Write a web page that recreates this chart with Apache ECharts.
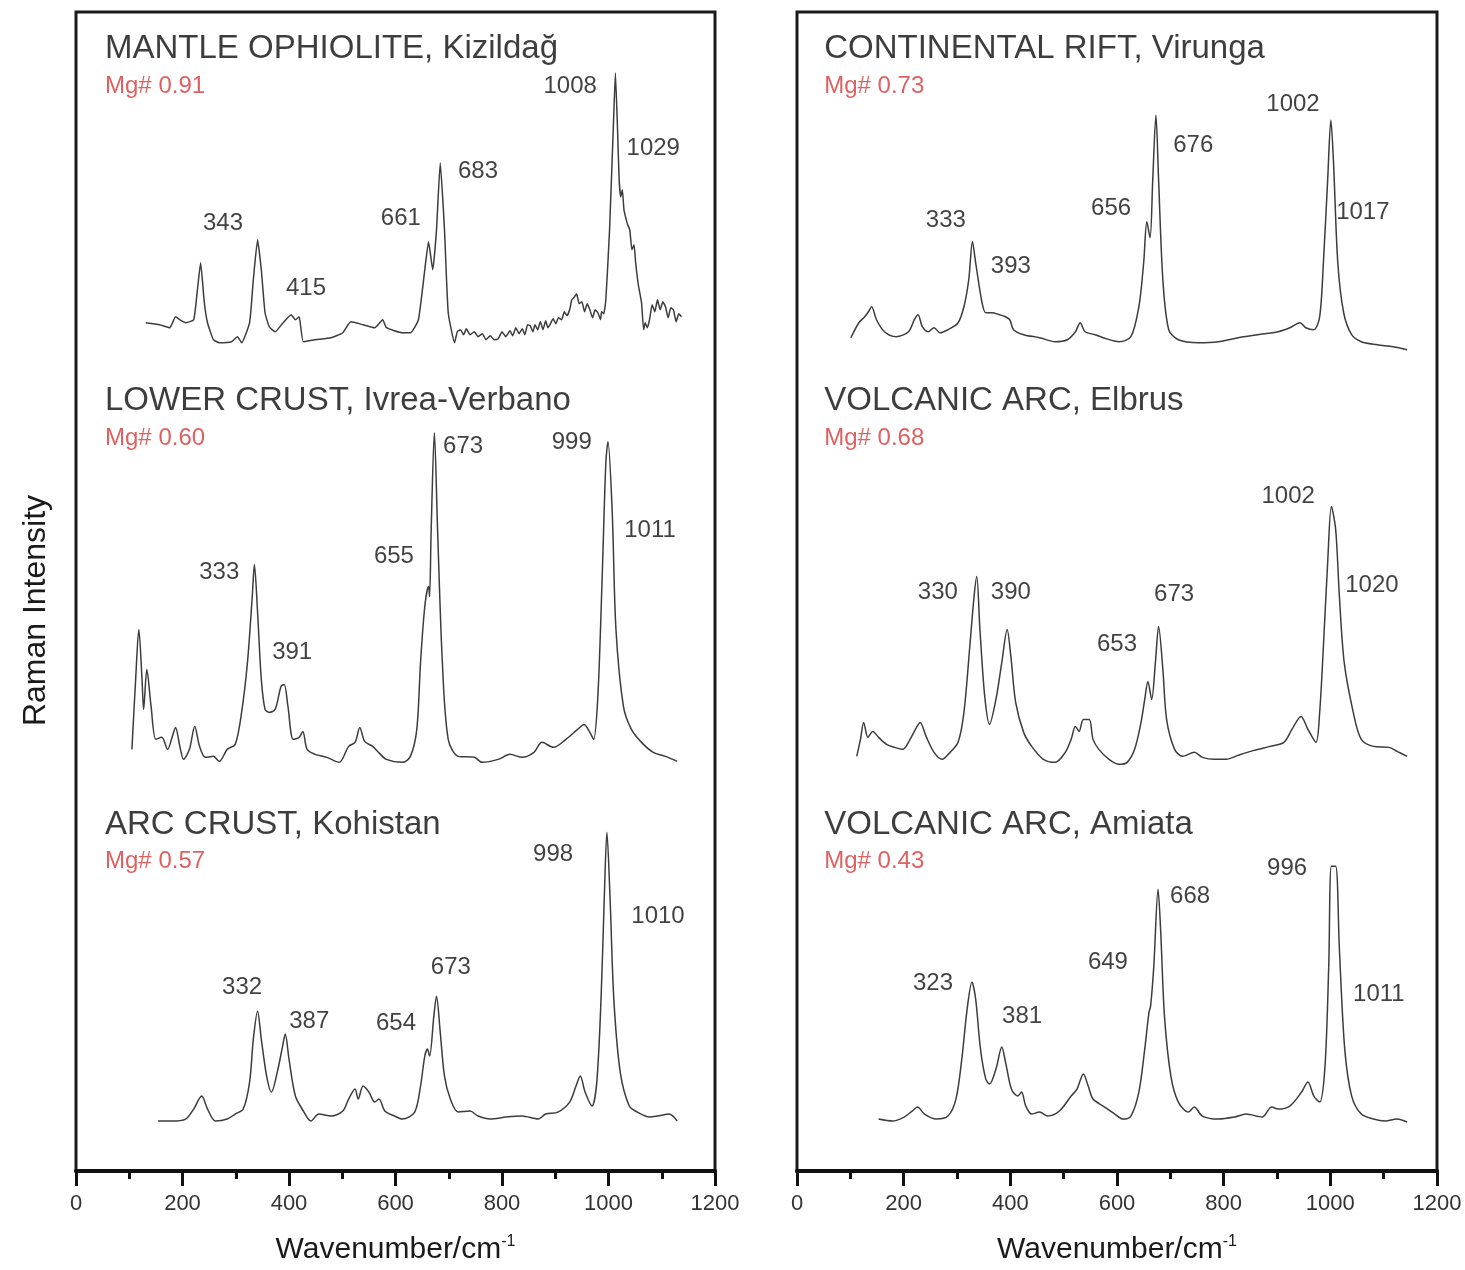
<!DOCTYPE html>
<html>
<head>
<meta charset="utf-8">
<script src="https://cdn.jsdelivr.net/npm/echarts@6/dist/echarts.min.js"></script>
<style>
html,body{margin:0;padding:0;background:#fff;}
#chart{width:1465px;height:1270px;}
</style>
</head>
<body>
<div id="chart"></div>
<script>
// ---------- Data (wavenumber in cm-1, Raman intensity in arbitrary units) ----------
const wnMantle = [131,157,176,187,195,206,221,228,234,241,247,258,269,292,303,311,326,333,341,348,355,363,374,389,404,412,419,427,449,479,501,516,539,561,576,583,613,628,643,655,662,670,677,684,692,699,711,716,722,728,733,740,748,755,763,770,778,785,793,800,807,815,820,826,832,838,843,848,853,858,862,867,872,877,882,886,890,896,901,906,912,917,922,927,931,935,940,945,950,955,960,965,970,975,980,985,987,991,995,1002,1010,1013,1017,1020,1023,1026,1029,1032,1036,1040,1044,1048,1051,1056,1062,1066,1069,1073,1077,1082,1087,1092,1097,1102,1107,1112,1117,1122,1127,1132,1137];
const intMantle = [2.7,2.5,2.2,3.3,3,2.7,3,6,8.7,4.7,2.7,1,0.7,0.8,1.3,0.7,2.7,7,11,8,3.7,2.3,1.8,2.7,3.5,3,3.3,0.8,1,1.2,1.7,2.8,2.5,2.2,3,2.2,1.7,1.7,3,8,10.8,8,12,18.7,12,3.7,0.7,1.8,2.0,1.5,2.1,1.5,1.8,1.3,1.6,1.0,1.4,1.0,1.1,1.8,1.3,1.9,1.4,2.2,1.6,2.1,1.5,2.5,2.4,1.8,2.5,2.0,2.8,2.0,2.9,2.2,2.5,3.1,2.6,3.2,3.0,3.8,3.4,4.0,5.0,5.2,5.6,4.6,4.8,3.8,4.6,4.0,3.2,4.0,3.7,3.0,3.8,3.6,5.0,12,23.7,27.7,22,17,15.3,16,14,13.3,12.5,12,10,10.5,8.7,6.5,4.7,2.0,2.7,2.2,3,4.5,3.8,5,4,4.8,4.3,3.2,4.2,4,2.8,3.6,3.3];

const wnLower = [105,112,118,124,127,133,141,150,161,172,181,187,195,202,213,223,232,243,258,269,284,299,311,322,331,335,341,348,355,363,374,385,391,398,408,419,426,434,449,471,494,512,524,533,542,557,568,583,613,628,640,647,655,662,664,667,673,679,688,699,718,748,763,793,815,838,860,875,897,920,942,954,965,972,980,988,995,999,1007,1014,1028,1043,1062,1084,1107,1129];
const intLower = [1.5,8.5,13.5,8.5,5.5,9.5,5.8,2.5,2.7,1.5,2.8,3.7,1.8,0.5,1.5,3.8,1.8,0.7,0.8,0.3,1.5,2,5.2,10.2,16.8,20,15.2,8.5,5.5,5.2,5.5,7.8,8,5.8,2.5,2.7,3.3,1.5,1,0.7,0.2,1.8,2.2,3.7,2.3,1.8,1.2,0.5,0.2,0.8,3.5,10.2,15.8,17.8,16.8,23.5,33.2,23.5,10.2,2.5,0.8,0.7,0.2,0.5,1,0.7,1.2,2.2,1.7,2.5,3.5,4,3.2,2.5,6.8,18.5,30.2,32.3,25.2,13.5,5.8,3.5,2.2,1.2,0.8,0.3];

const wnArc = [154,180,206,221,236,247,262,284,299,314,326,333,341,348,358,367,378,388,393,400,412,427,441,456,479,501,512,524,530,539,550,561,569,580,598,613,636,647,655,660,664,672,677,684,692,703,718,740,755,778,808,838,868,882,905,927,939,947,956,969,978,986,992,997,1003,1010,1022,1039,1054,1077,1092,1114,1129];
const intArc = [0.3,0.3,0.5,1.5,2.8,1.5,0.3,0.5,1,1.5,4.2,8.5,11.3,8.5,4.8,3.2,5.2,7.8,9,6.5,2.8,1.3,0.3,1,0.8,1.3,2.5,3.5,2.5,3.8,3.2,2.2,2.5,1.3,0.8,0.5,1.2,3.8,6.8,7.5,6.8,10.8,12.8,9.2,4.8,2.5,1.2,1.3,0.8,0.5,0.7,0.8,0.5,1,1.2,2.2,3.8,4.8,3.2,1.8,4.2,12.5,22.5,29.2,22.5,12.5,5.2,1.8,1.2,0.7,0.8,1,0.3];

const wnRift = [101,116,127,134,140,149,164,186,209,220,227,235,246,257,268,283,302,313,322,329,335,347,354,365,380,391,399,406,425,455,484,507,522,531,540,559,574,604,626,641,650,656,662,667,673,678,686,697,715,753,790,827,864,902,924,943,954,969,980,987,995,1001,1006,1014,1025,1040,1058,1088,1118,1144];
const intRift = [1.2,2.7,3.3,3.8,4.3,3,1.8,1.3,1.8,3,3.5,2.3,1.8,2.2,1.7,2,2.7,4.3,7,10.8,8.7,4.7,3.7,3.7,3.5,3.3,3,2,1.5,1.2,0.8,1,1.8,2.7,1.8,1.5,1.2,0.8,1.3,4.3,8.7,12.8,11.2,17,23.5,17,7,2,1,0.7,0.8,1.2,1.5,1.8,2.2,2.7,2.2,2,3.3,8.7,17,23,18.7,8.7,3.7,1.5,0.8,0.5,0.3,0];

const wnElbrus = [112,119,125,133,142,153,168,183,198,212,224,231,242,257,272,287,302,313,324,332,337,343,352,361,373,384,394,401,410,425,440,462,484,503,514,522,529,537,548,555,566,585,604,619,633,645,652,658,665,672,678,686,693,708,723,745,760,783,805,827,857,887,913,928,945,958,973,980,987,995,1002,1010,1017,1026,1043,1058,1081,1110,1125,1144];
const intElbrus = [0.8,2.5,4.2,2.7,3.3,2.7,2,1.7,1.5,2.5,3.7,4.2,2.8,1.2,0.5,1.2,2.2,5.2,11.8,16.8,18.8,13.5,6.8,4,6.5,10.2,13.5,10.8,6.2,3.2,1.8,0.5,0.2,1.2,2.5,3.8,3.3,4.5,4.5,2.5,1.5,0.5,0,0.2,1.5,4.2,6.5,8.3,6.5,10.2,13.8,9.5,4.5,1.5,0.8,1.2,0.7,0.5,0.5,0.9,1.4,1.8,2.2,3.5,4.8,3.5,2.2,5.2,11.8,20.2,25.8,23.5,16.8,10.2,5.2,2.5,1.8,1.7,1.3,0.8];

const wnAmiata = [153,179,201,216,226,239,261,283,298,309,319,328,335,344,354,361,373,384,391,402,414,421,429,440,455,470,492,514,525,537,546,555,574,596,611,626,641,652,660,663,669,677,682,689,701,715,734,745,760,790,820,842,872,890,902,924,946,958,969,980,990,997,1002,1010,1017,1027,1040,1058,1081,1103,1125,1144];
const intAmiata = [0.5,0.3,0.7,1.3,1.7,1,0.5,0.8,2.5,6.5,11.5,14.2,12.5,7.5,4.5,4,5.5,7.7,6.2,3.5,2.8,3.2,1.8,1,1.2,0.8,1.3,2.8,3.5,5,3.8,2.5,1.8,1,0.5,0.8,3.2,7.5,11.2,11.8,15.8,23.5,19.2,10.8,4.8,2.2,1.2,1.7,0.8,0.5,0.7,1,0.7,1.7,1.5,1.8,3.2,4.2,2.8,2.2,5.8,15.8,25.8,25.8,17.5,7.5,2.8,1,0.5,0.3,0.5,0.2];

// vertical stacking offsets (top, middle, bottom)
const stackOffsets = [82.2, 40.7, 4.7];

const titlesLeft  = ['MANTLE OPHIOLITE, Kizildağ', 'LOWER CRUST, Ivrea-Verbano', 'ARC CRUST, Kohistan'];
const titlesRight = ['CONTINENTAL RIFT, Virunga', 'VOLCANIC ARC, Elbrus', 'VOLCANIC ARC, Amiata'];
const mgLeft  = ['Mg# 0.91', 'Mg# 0.60', 'Mg# 0.57'];
const mgRight = ['Mg# 0.73', 'Mg# 0.68', 'Mg# 0.43'];

// peak annotations: [text, wavenumber, intensity position]
const peaksLeft = [
  ['343',276,94.8],['415',432,88.3],['661',610,95.3],['683',755,100],['1008',928,108.6],['1029',1084,102.4],
  ['333',269,59.9],['391',406,51.9],['655',597,61.5],['673',727,72.5],['999',931,72.9],['1011',1078,64.1],
  ['332',312,18.4],['387',438,15],['654',601,14.8],['673',704,20.4],['998',896,31.7],['1010',1093,25.5]
];
const peaksRight = [
  ['333',279,95.1],['393',401,90.5],['656',589,96.3],['676',743,102.7],['1002',930,106.8],['1017',1061,95.9],
  ['330',264,57.9],['390',401,57.9],['653',600,52.7],['673',707,57.7],['1002',921,67.5],['1020',1078,58.6],
  ['323',255,18.8],['381',422,15.5],['649',583,20.9],['668',737,27.5],['996',919,30.3],['1011',1091,17.7]
];
// title / Mg# anchor rows (y in axis units) and left x
const titleRowsY = [112.3, 77.1, 34.6];
const mgRowsY = [108.6, 73.3, 31];
const titleX = [54.5, 51];

// ---------- Chart ----------
const FONT = 'Liberation Sans, Arial, sans-serif';
const chart = echarts.init(document.getElementById('chart'), null, {renderer:'canvas'});

function xAxisFor(gi){
  return {
    gridIndex: gi, type:'value', min:0, max:1200, interval:200,
    axisLine:{show:true, onZero:false, lineStyle:{color:'#111', width:4}},
    axisTick:{show:true, length:15, lineStyle:{color:'#111', width:3}},
    minorTick:{show:true, splitNumber:2, length:8, lineStyle:{color:'#111', width:3}},
    splitLine:{show:false}, minorSplitLine:{show:false},
    axisLabel:{fontSize:22, color:'#333', margin:22, fontFamily:FONT, formatter:function(v){return String(v);}},
    name:'{b|Wavenumber/cm}{s|-1}', nameLocation:'middle', nameGap:63,
    nameTextStyle:{color:'#222', fontFamily:FONT,
      rich:{b:{fontSize:30, fontFamily:FONT, color:'#1a1a1a'}, s:{fontSize:16, fontFamily:FONT, color:'#1a1a1a', padding:[0,0,16,0]}}}
  };
}
function yAxisFor(gi){
  const ax = {gridIndex:gi, type:'value', min:0, max:116,
    axisLine:{show:false}, axisTick:{show:false}, axisLabel:{show:false}, splitLine:{show:false}};
  if(gi===0){
    ax.name='Raman Intensity'; ax.nameLocation='middle'; ax.nameGap=24; ax.nameRotate=90;
    ax.nameTextStyle={fontSize:32, color:'#1a1a1a', fontFamily:FONT, padding:[0,38,0,0]};
  }
  return ax;
}
function spectrum(wn, inten, off, gi, smooth){
  return {type:'line', xAxisIndex:gi, yAxisIndex:gi, silent:true, animation:false,
    showSymbol:false, smooth:smooth, clip:true,
    lineStyle:{color:'#3c3c3c', width:1.5},
    data: wn.map((x,i)=>[x, inten[i]+off])};
}
function textSeries(gi, items, style){
  return {type:'scatter', xAxisIndex:gi, yAxisIndex:gi, symbolSize:0, silent:true, animation:false,
    data: items.map(it=>({name:it[0], value:[it[1], it[2]]})),
    label:Object.assign({show:true, formatter:'{b}', fontFamily:FONT}, style)};
}

const series = [
  spectrum(wnMantle, intMantle, stackOffsets[0], 0, 0.15),
  spectrum(wnLower, intLower, stackOffsets[1], 0, 0.3),
  spectrum(wnArc, intArc, stackOffsets[2], 0, 0.3),
  spectrum(wnRift, intRift, stackOffsets[0], 1, 0.3),
  spectrum(wnElbrus, intElbrus, stackOffsets[1], 1, 0.3),
  spectrum(wnAmiata, intAmiata, stackOffsets[2], 1, 0.3),
  textSeries(0, peaksLeft, {position:'inside', fontSize:24, color:'#111'}),
  textSeries(1, peaksRight, {position:'inside', fontSize:24, color:'#111'}),
  textSeries(0, titlesLeft.map((t,i)=>[t, titleX[0], titleRowsY[i]]), {position:[0,0], align:'left', verticalAlign:'middle', fontSize:33, color:'#0d0d0d'}),
  textSeries(1, titlesRight.map((t,i)=>[t, titleX[1], titleRowsY[i]]), {position:[0,0], align:'left', verticalAlign:'middle', fontSize:33, color:'#0d0d0d'}),
  textSeries(0, mgLeft.map((t,i)=>[t, titleX[0], mgRowsY[i]]), {position:[0,0], align:'left', verticalAlign:'middle', fontSize:24, color:'#d63a3a'}),
  textSeries(1, mgRight.map((t,i)=>[t, titleX[1], mgRowsY[i]]), {position:[0,0], align:'left', verticalAlign:'middle', fontSize:24, color:'#d63a3a'})
];

chart.setOption({
  animation:false,
  backgroundColor:'#fff',
  grid:[
    {left:76, top:12, width:639, height:1160, show:true, borderColor:'#1a1a1a', borderWidth:3, backgroundColor:'transparent'},
    {left:797, top:12, width:640, height:1160, show:true, borderColor:'#1a1a1a', borderWidth:3, backgroundColor:'transparent'}
  ],
  xAxis:[xAxisFor(0), xAxisFor(1)],
  yAxis:[yAxisFor(0), yAxisFor(1)],
  series: series
});
</script>
</body>
</html>
